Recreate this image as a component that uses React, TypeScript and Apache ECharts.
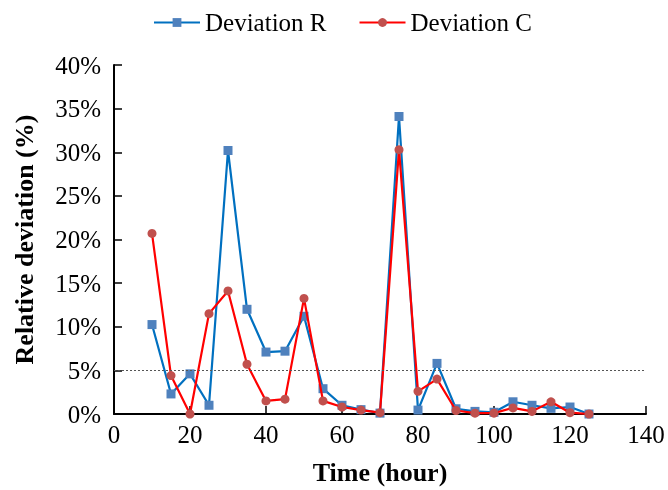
import React, { useEffect, useRef } from "react";
import * as echarts from "echarts";

const hours = [10, 15, 20, 25, 30, 35, 40, 45, 50, 55, 60, 65, 70, 75, 80, 85, 90, 95, 100, 105, 110, 115, 120, 125];
const deviationR = [10.25, 2.3, 4.6, 1.0, 30.2, 12.0, 7.1, 7.2, 11.2, 2.9, 1.0, 0.5, 0.1, 34.1, 0.45, 5.8, 0.6, 0.3, 0.2, 1.4, 1.0, 0.65, 0.8, 0.0];
const deviationC = [20.7, 4.4, 0.0, 11.5, 14.1, 5.7, 1.5, 1.7, 13.25, 1.5, 0.8, 0.45, 0.15, 30.3, 2.6, 4.0, 0.4, 0.1, 0.1, 0.7, 0.3, 1.4, 0.15, 0.0];
const thresholdLine = 5;

const FONT = "Liberation Serif";

export default function App() {
  const ref = useRef<HTMLDivElement>(null);
  useEffect(() => {
    if (!ref.current) return;
    const chart = echarts.init(ref.current, undefined, { renderer: "svg" });
    chart.setOption({
      animation: false,
      textStyle: { fontFamily: FONT },
      legend: {
        top: 5,
        left: 148,
        itemWidth: 46,
        itemHeight: 11,
        itemGap: 32,
        textStyle: { fontFamily: FONT, fontSize: 25, color: "#000", padding: [0, 0, 0, 0] },
        data: ["Deviation R", "Deviation C"],
      },
      grid: { left: 114, right: 22, top: 65, bottom: 71 },
      xAxis: {
        type: "value",
        min: 0,
        max: 140,
        interval: 20,
        name: "Time (hour)",
        nameLocation: "middle",
        nameGap: 45,
        nameTextStyle: { fontFamily: FONT, fontSize: 26, fontWeight: "bold", color: "#000" },
        axisLine: { show: true, onZero: false, lineStyle: { color: "#000", width: 2 } },
        axisTick: { show: true, inside: true, length: 8, lineStyle: { color: "#000", width: 1.5 } },
        axisLabel: { fontFamily: FONT, fontSize: 25, color: "#000", margin: 8 },
        splitLine: { show: false },
      },
      yAxis: {
        type: "value",
        min: 0,
        max: 40,
        interval: 5,
        name: "Relative deviation (%)",
        nameLocation: "middle",
        nameGap: 77,
        nameTextStyle: { fontFamily: FONT, fontSize: 26, fontWeight: "bold", color: "#000" },
        axisLine: { show: true, lineStyle: { color: "#000", width: 2 } },
        axisTick: { show: true, inside: true, length: 8, lineStyle: { color: "#000", width: 1.5 } },
        axisLabel: { fontFamily: FONT, fontSize: 25, color: "#000", margin: 13, formatter: "{value}%" },
        splitLine: { show: false },
      },
      series: [
        {
          name: "Deviation R",
          type: "line",
          data: hours.map((h, i) => [h, deviationR[i]]),
          symbol: "rect",
          symbolSize: 9,
          itemStyle: { color: "#4F81BD" },
          lineStyle: { color: "#0070C0", width: 2.2 },
          z: 2,
        },
        {
          name: "Deviation C",
          type: "line",
          data: hours.map((h, i) => [h, deviationC[i]]),
          symbol: "circle",
          symbolSize: 9,
          itemStyle: { color: "#C0504D" },
          lineStyle: { color: "#FF0000", width: 2.2 },
          z: 3,
          markLine: {
            silent: true,
            symbol: "none",
            label: { show: false },
            lineStyle: { color: "#555", type: [2, 2], width: 1.2 },
            data: [{ yAxis: thresholdLine }],
          },
        },
      ],
    });
    return () => chart.dispose();
  }, []);
  return <div ref={ref} style={{ position: "fixed", left: 0, top: 0, width: 668, height: 490 }} />;
}
